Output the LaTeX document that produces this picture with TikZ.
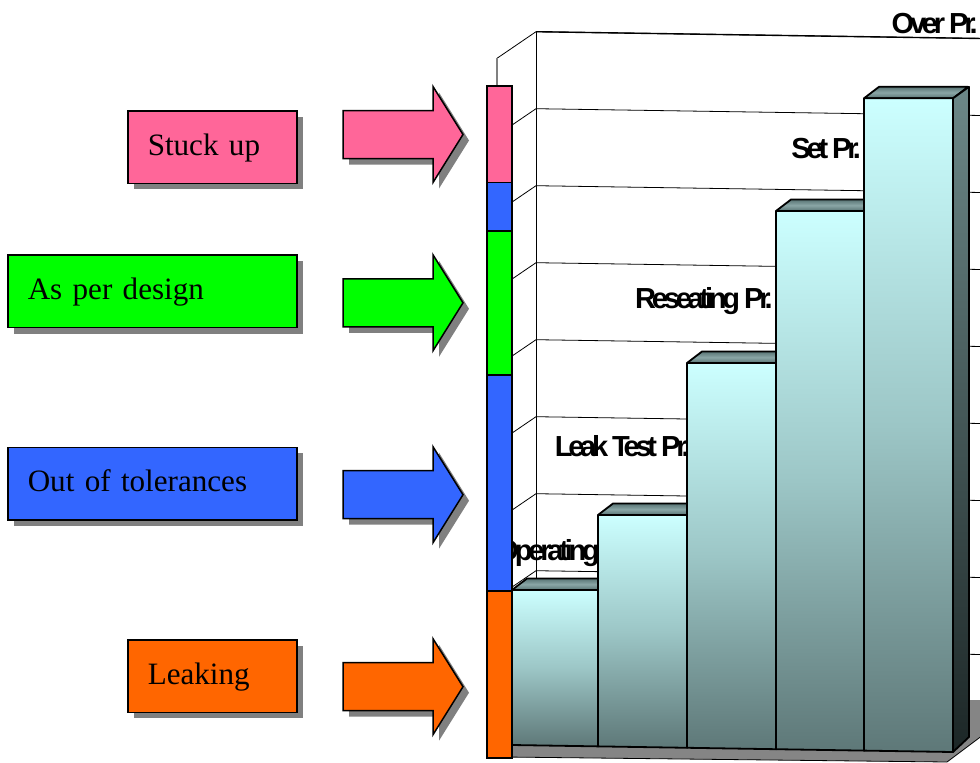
\documentclass[tikz,border=0pt]{standalone}
\usepackage{fontspec}
\setmainfont{Liberation Serif}
\newfontfamily\chartfont[LetterSpace=-14.5]{Liberation Sans}
\newcommand\tightspaces{\spaceskip=4pt\relax}
\usetikzlibrary{shadows}
\definecolor{pinkc}{HTML}{FF6699}
\definecolor{bluec}{HTML}{3366FF}
\definecolor{greenc}{HTML}{00FF00}
\definecolor{orangec}{HTML}{FF6600}
\definecolor{shadowc}{HTML}{808080}
\definecolor{bartop}{HTML}{CCFFFF}
\definecolor{barmid}{HTML}{9CC6C6}
\definecolor{barbot}{HTML}{5E7878}
\definecolor{capA}{HTML}{8AA6A6}
\definecolor{capB}{HTML}{587474}
\definecolor{sideA}{HTML}{6C8888}
\definecolor{sideB}{HTML}{1C2626}
\definecolor{floorc}{HTML}{858585}
\tikzset{
  gridline/.style={draw=black, line width=0.8pt},
  barline/.style={draw=black, line width=1.8pt, line join=round},
  lbl/.style={font=\chartfont\bfseries\fontsize{29}{35}\selectfont\tightspaces, inner sep=0pt},
  catbox/.style={draw=black, line width=1.5pt, anchor=north west, inner xsep=20pt,
    minimum height=72.5pt, align=left, text height=23pt, text depth=6.5pt,
    font=\fontsize{31.1}{38}\selectfont,
    drop shadow={shadow xshift=6pt, shadow yshift=-6pt, fill=shadowc, opacity=1}},
  stripe/.style={draw=black, line width=1.5pt},
  bigarrow/.style={draw=black, line width=1.5pt, line join=miter}
}
\newcommand\drawbar[3]{%
  \pgfmathsetmacro\ybl{745+(#1-512)*0.0159}%
  \pgfmathsetmacro\ybr{745+(#2-512)*0.0159}%
  \shade[top color=capB, bottom color=capB, middle color=capA] (#1,#3) -- ++(15,-11.5) -- (#2+15,#3-11.5) -- (#2,#3) -- cycle;
  \draw[barline] (#1,#3) -- ++(15,-11.5) -- (#2+15,#3-11.5) -- (#2,#3) -- cycle;
  \shade[top color=bartop, bottom color=barbot, middle color=barmid] (#1,#3) -- (#2,#3) -- (#2,\ybr) -- (#1,\ybl) -- cycle;
  \draw[barline] (#1,#3) -- (#2,#3) -- (#2,\ybr) -- (#1,\ybl) -- cycle;
}
\begin{document}
\begin{tikzpicture}[x=1pt,y=-1pt]
\useasboundingbox (0,0) rectangle (980,763);
\clip (0,0) rectangle (980,763);
% floor
\fill[floorc] (505,757) -- (947,762) -- (995,726) -- (995,700) -- (505,700) -- cycle;
\draw[line width=0.8pt] (505,757) -- (947,762) -- (995,726);
% walls and gridlines
\foreach \k in {0,...,8} {
  \pgfmathsetmacro\yy{31.7+77*\k}
  \draw[gridline] (536,\yy) -- (995,\yy+7);
  \draw[gridline] (536,\yy) -- (497,\yy+26.6);
}
\draw[line width=1.4pt] (536,31.7) -- (995,38.7);
\draw[gridline] (536,31.7) -- (536,724);
\draw[draw=shadowc, line width=1.5pt] (497,58.3) -- (497,87);
% value labels (behind the bars)
\node[lbl, anchor=base east] (lop) at (600,560) {Operating};
\node[lbl, anchor=base east] (llt) at (690,456) {Leak Test Pr.};
\node[lbl, anchor=base east] (lrs) at (773,308) {Reseating Pr.};
\node[lbl, anchor=base east] (lsp) at (861,158) {Set Pr.};
\node[lbl, anchor=base east] (lov) at (978,33) {Over Pr.};
% bars
\drawbar{512}{598}{590}
\drawbar{598}{687}{515}
\drawbar{687}{776}{363}
\drawbar{776}{864}{211}
\drawbar{864}{953}{98.3}
\shade[top color=sideA, bottom color=sideB] (953,98.3) -- (969,86.8) -- (969,737) -- (953,752) -- cycle;
\draw[barline] (953,98.3) -- (969,86.8) -- (969,737) -- (953,752) -- cycle;
% colour stripe
\filldraw[stripe, fill=pinkc] (487,86) rectangle (512,182.7);
\filldraw[stripe, fill=bluec] (487,182.7) rectangle (512,231);
\filldraw[stripe, fill=greenc] (487,231) rectangle (512,375);
\filldraw[stripe, fill=bluec] (487,375) rectangle (512,591);
\filldraw[stripe, fill=orangec] (487,591) rectangle (512,758);
% arrows
\foreach \cy/\col in {134.5/pinkc, 302.8/greenc, 494.7/bluec, 686.7/orangec} {
  \fill[shadowc, shift={(6,6)}] (343,\cy-24) -- (433,\cy-24) -- (433,\cy-48) -- (463,\cy) -- (433,\cy+48) -- (433,\cy+24) -- (343,\cy+24) -- cycle;
  \filldraw[bigarrow, fill=\col] (343,\cy-24) -- (433,\cy-24) -- (433,\cy-48) -- (463,\cy) -- (433,\cy+48) -- (433,\cy+24) -- (343,\cy+24) -- cycle;
}
% category boxes
\node[catbox, fill=pinkc, text width=129pt] (stuck) at (127,110) {Stuck up};
\node[catbox, fill=greenc, text width=249pt] (design) at (7,254.3) {As per design};
\node[catbox, fill=bluec, text width=249pt] (toler) at (7,446.7) {Out of tolerances};
\node[catbox, fill=orangec, text width=129pt] (leak) at (127,639) {Leaking};
\end{tikzpicture}
\end{document}
